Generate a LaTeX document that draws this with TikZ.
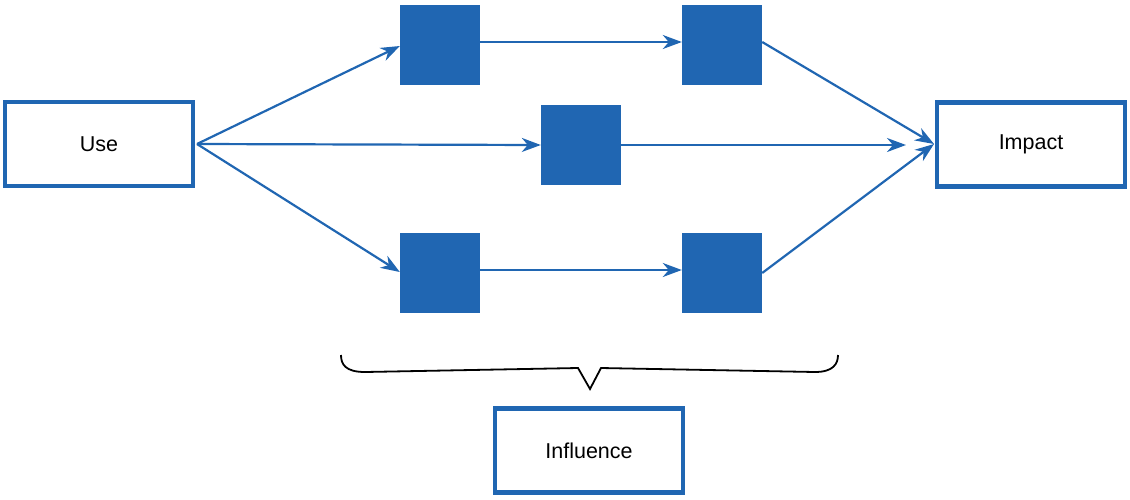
\documentclass[tikz,border=0pt]{standalone}
\usepackage{fontspec}
\setmainfont{Liberation Sans}
\usetikzlibrary{arrows.meta}
\definecolor{blu}{RGB}{32,102,178}
\begin{document}
\begin{tikzpicture}[x=1pt,y=-1pt,
  lbl/.style={draw=blu, line width=4.2pt, fill=white, minimum width=188pt, minimum height=84pt, inner sep=0pt, font=\fontsize{21.5}{25}\selectfont},
  sq/.style={fill=blu, minimum width=80pt, minimum height=80pt, inner sep=0pt},
  arr/.style={draw=blu, line width=2.2pt, -{Stealth[length=19pt,width=14pt,inset=6pt]}}]
\useasboundingbox (0,0) rectangle (1130,499);
\node[lbl] (use) at (99,144) {Use};
\node[lbl] (impact) at (1031,144.5) {Impact};
\node[lbl] (infl) at (589,450.5) {Influence};
\node[sq] (a) at (440,44.5) {};
\node[sq] (b) at (722,44.5) {};
\node[sq] (m) at (581,145) {};
\node[sq] (c) at (440,273) {};
\node[sq] (d) at (722,273) {};
\coordinate (ua) at (197,144);
\coordinate (ia) at (934,144);
\coordinate (im) at (906,145);
\draw[arr] (ua) -- (a.west |- 0,46);
\draw[arr] (ua) -- (m.west);
\draw[arr] (ua) -- (c.west |- 0,272);
\draw[arr] (a.east |- 0,42) -- (b.west |- 0,42);
\draw[arr] (c.east |- 0,270) -- (d.west |- 0,270);
\draw[arr] (b.east |- 0,42) -- (ia);
\draw[arr] (m.east) -- (im);
\draw[arr] (d.east |- 0,273) -- (ia);
\coordinate (bl) at (341,355);
\coordinate (br) at (838,355);
\coordinate (bt) at (590,389);
\draw[black, line width=1.8pt, line join=miter] (bl) .. controls (341,364) and (345,372) .. (365,372)
  -- (578,368) -- (bt) -- (601,368) -- (815,372)
  .. controls (833,372) and (838,364) .. (br);
\end{tikzpicture}
\end{document}
